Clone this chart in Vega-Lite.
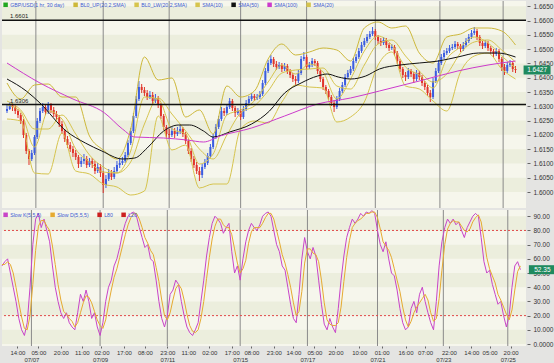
{
"$schema":"https://vega.github.io/schema/vega-lite/v6.json",
"padding":0,
"spacing":2,
"bounds":"flush",
"background":"#e4e4e2",
"config":{"view":{"stroke":null,"fill":"#f6f6ec"},"font":"Liberation Sans",
 "axis":{"grid":false,"domain":false,"tickColor":"#666666","labelColor":"#333333","labelFont":"Liberation Sans","labelFontSize":6.5}},
"resolve":{"scale":{"color":"independent"},"legend":{"color":"independent"}},
"datasets":{
"days":[{"t":21},{"t":70},{"t":118},{"t":170},{"t":218},{"t":268},{"t":315},{"t":361}],
"pbands":[{"lo":1.6,"hi":1.605},{"lo":1.61,"hi":1.615},{"lo":1.62,"hi":1.625},{"lo":1.63,"hi":1.635},{"lo":1.64,"hi":1.645},{"lo":1.65,"hi":1.655},{"lo":1.66,"hi":1.665}],
"sbands":[{"lo":0,"hi":10},{"lo":20,"hi":30},{"lo":40,"hi":50},{"lo":60,"hi":70},{"lo":80,"hi":90}],
"hl":[{"v":1.6601,"label":"1.6601"},{"v":1.6306,"label":"1.6306"}],
"pbox":[{"t":385.7,"v":1.6427,"label":"1.6427"}],
"sbox":[{"t":385.7,"v":52.35,"label":"52.35"}],
"slev":[{"v":80},{"v":20}],
"bars":[
{"t":0,"o":1.62835,"hi":1.63045,"lo":1.62765,"c":1.62905},
{"t":2,"o":1.62905,"hi":1.6315,"lo":1.6287,"c":1.63045},
{"t":4,"o":1.63045,"hi":1.63115,"lo":1.62835,"c":1.62975},
{"t":6,"o":1.62975,"hi":1.63045,"lo":1.6273,"c":1.62835},
{"t":8,"o":1.62835,"hi":1.62905,"lo":1.6259,"c":1.62695},
{"t":10,"o":1.62695,"hi":1.62765,"lo":1.6238,"c":1.62485},
{"t":12,"o":1.62485,"hi":1.62555,"lo":1.6189,"c":1.61995},
{"t":14,"o":1.61995,"hi":1.62065,"lo":1.6133,"c":1.61435},
{"t":16,"o":1.61435,"hi":1.61505,"lo":1.60945,"c":1.61155},
{"t":18,"o":1.61155,"hi":1.6147,"lo":1.61085,"c":1.61365},
{"t":20,"o":1.61365,"hi":1.61995,"lo":1.61295,"c":1.61925},
{"t":22,"o":1.61925,"hi":1.6259,"lo":1.61855,"c":1.62485},
{"t":24,"o":1.62485,"hi":1.6294,"lo":1.62415,"c":1.62835},
{"t":26,"o":1.62835,"hi":1.63115,"lo":1.62765,"c":1.62975},
{"t":28,"o":1.62975,"hi":1.63045,"lo":1.62695,"c":1.628},
{"t":30,"o":1.628,"hi":1.6315,"lo":1.6273,"c":1.63045},
{"t":32,"o":1.63045,"hi":1.63115,"lo":1.62765,"c":1.6287},
{"t":34,"o":1.6287,"hi":1.62975,"lo":1.62625,"c":1.6273},
{"t":36,"o":1.6273,"hi":1.62835,"lo":1.6252,"c":1.62625},
{"t":38,"o":1.62625,"hi":1.62695,"lo":1.62275,"c":1.6238},
{"t":40,"o":1.6238,"hi":1.62485,"lo":1.6203,"c":1.62135},
{"t":42,"o":1.62135,"hi":1.62205,"lo":1.6175,"c":1.61855},
{"t":44,"o":1.61855,"hi":1.6196,"lo":1.6154,"c":1.61645},
{"t":46,"o":1.61645,"hi":1.6175,"lo":1.614,"c":1.61505},
{"t":48,"o":1.61505,"hi":1.6161,"lo":1.61225,"c":1.61365},
{"t":50,"o":1.61365,"hi":1.6147,"lo":1.6112,"c":1.61225},
{"t":52,"o":1.61225,"hi":1.61295,"lo":1.6084,"c":1.6098},
{"t":54,"o":1.6098,"hi":1.61225,"lo":1.60875,"c":1.61085},
{"t":56,"o":1.61085,"hi":1.6133,"lo":1.6098,"c":1.61155},
{"t":58,"o":1.61155,"hi":1.6126,"lo":1.6084,"c":1.60945},
{"t":60,"o":1.60945,"hi":1.6119,"lo":1.60875,"c":1.61085},
{"t":62,"o":1.61085,"hi":1.6119,"lo":1.6084,"c":1.6098},
{"t":64,"o":1.6098,"hi":1.61085,"lo":1.6063,"c":1.60735},
{"t":66,"o":1.60735,"hi":1.61015,"lo":1.60665,"c":1.60875},
{"t":68,"o":1.60875,"hi":1.6098,"lo":1.60525,"c":1.60665},
{"t":70,"o":1.60665,"hi":1.60735,"lo":1.59965,"c":1.60245},
{"t":72,"o":1.60245,"hi":1.60595,"lo":1.6014,"c":1.60455},
{"t":74,"o":1.60455,"hi":1.60805,"lo":1.60385,"c":1.60665},
{"t":76,"o":1.60665,"hi":1.6077,"lo":1.6042,"c":1.60525},
{"t":78,"o":1.60525,"hi":1.60875,"lo":1.60455,"c":1.60735},
{"t":80,"o":1.60735,"hi":1.61085,"lo":1.60665,"c":1.60945},
{"t":82,"o":1.60945,"hi":1.6119,"lo":1.6084,"c":1.61015},
{"t":84,"o":1.61015,"hi":1.61225,"lo":1.60945,"c":1.61085},
{"t":86,"o":1.61085,"hi":1.614,"lo":1.61015,"c":1.61295},
{"t":88,"o":1.61295,"hi":1.6182,"lo":1.61225,"c":1.61715},
{"t":90,"o":1.61715,"hi":1.6224,"lo":1.61645,"c":1.62135},
{"t":92,"o":1.62135,"hi":1.62765,"lo":1.62065,"c":1.6266},
{"t":94,"o":1.6266,"hi":1.6336,"lo":1.6259,"c":1.63255},
{"t":96,"o":1.63255,"hi":1.63885,"lo":1.63185,"c":1.63675},
{"t":98,"o":1.63675,"hi":1.6378,"lo":1.63465,"c":1.6357},
{"t":100,"o":1.6357,"hi":1.63675,"lo":1.6336,"c":1.63465},
{"t":102,"o":1.63465,"hi":1.6357,"lo":1.6322,"c":1.63325},
{"t":104,"o":1.63325,"hi":1.63535,"lo":1.63255,"c":1.63395},
{"t":106,"o":1.63395,"hi":1.635,"lo":1.6308,"c":1.63185},
{"t":108,"o":1.63185,"hi":1.6343,"lo":1.63115,"c":1.6329},
{"t":110,"o":1.6329,"hi":1.6336,"lo":1.6294,"c":1.63045},
{"t":112,"o":1.63045,"hi":1.63115,"lo":1.62555,"c":1.6266},
{"t":114,"o":1.6266,"hi":1.6273,"lo":1.6217,"c":1.62275},
{"t":116,"o":1.62275,"hi":1.62345,"lo":1.6189,"c":1.6203},
{"t":118,"o":1.6203,"hi":1.62205,"lo":1.61855,"c":1.61995},
{"t":120,"o":1.61995,"hi":1.62275,"lo":1.61925,"c":1.62135},
{"t":122,"o":1.62135,"hi":1.6224,"lo":1.6189,"c":1.6203},
{"t":124,"o":1.6203,"hi":1.62275,"lo":1.6196,"c":1.621},
{"t":126,"o":1.621,"hi":1.62345,"lo":1.6203,"c":1.62205},
{"t":128,"o":1.62205,"hi":1.62275,"lo":1.61925,"c":1.6203},
{"t":130,"o":1.6203,"hi":1.621,"lo":1.6168,"c":1.61785},
{"t":132,"o":1.61785,"hi":1.61855,"lo":1.6133,"c":1.61435},
{"t":134,"o":1.61435,"hi":1.6154,"lo":1.6105,"c":1.61155},
{"t":136,"o":1.61155,"hi":1.6126,"lo":1.6084,"c":1.60945},
{"t":138,"o":1.60945,"hi":1.6105,"lo":1.6063,"c":1.60735},
{"t":140,"o":1.60735,"hi":1.60875,"lo":1.60385,"c":1.60595},
{"t":142,"o":1.60595,"hi":1.6098,"lo":1.6049,"c":1.60875},
{"t":144,"o":1.60875,"hi":1.61155,"lo":1.60805,"c":1.61015},
{"t":146,"o":1.61015,"hi":1.61365,"lo":1.60945,"c":1.6126},
{"t":148,"o":1.6126,"hi":1.6168,"lo":1.6119,"c":1.61575},
{"t":150,"o":1.61575,"hi":1.6203,"lo":1.61505,"c":1.61925},
{"t":152,"o":1.61925,"hi":1.6238,"lo":1.61855,"c":1.62275},
{"t":154,"o":1.62275,"hi":1.6266,"lo":1.62205,"c":1.62555},
{"t":156,"o":1.62555,"hi":1.62975,"lo":1.62485,"c":1.62835},
{"t":158,"o":1.62835,"hi":1.6294,"lo":1.6266,"c":1.62765},
{"t":160,"o":1.62765,"hi":1.6308,"lo":1.62695,"c":1.62975},
{"t":162,"o":1.62975,"hi":1.6329,"lo":1.62905,"c":1.63185},
{"t":164,"o":1.63185,"hi":1.63255,"lo":1.62835,"c":1.6294},
{"t":166,"o":1.6294,"hi":1.6301,"lo":1.62625,"c":1.62765},
{"t":168,"o":1.62765,"hi":1.6294,"lo":1.62695,"c":1.62835},
{"t":170,"o":1.62835,"hi":1.62905,"lo":1.6252,"c":1.62625},
{"t":172,"o":1.62625,"hi":1.6301,"lo":1.62555,"c":1.62905},
{"t":174,"o":1.62905,"hi":1.6322,"lo":1.62835,"c":1.63115},
{"t":176,"o":1.63115,"hi":1.6336,"lo":1.63045,"c":1.63255},
{"t":178,"o":1.63255,"hi":1.63465,"lo":1.63185,"c":1.6336},
{"t":180,"o":1.6336,"hi":1.6343,"lo":1.63185,"c":1.6329},
{"t":182,"o":1.6329,"hi":1.6343,"lo":1.6322,"c":1.63325},
{"t":184,"o":1.63325,"hi":1.63535,"lo":1.63255,"c":1.6343},
{"t":186,"o":1.6343,"hi":1.6392,"lo":1.6336,"c":1.63815},
{"t":188,"o":1.63815,"hi":1.6434,"lo":1.63745,"c":1.64235},
{"t":190,"o":1.64235,"hi":1.6462,"lo":1.64165,"c":1.64515},
{"t":192,"o":1.64515,"hi":1.64795,"lo":1.64445,"c":1.64655},
{"t":194,"o":1.64655,"hi":1.64725,"lo":1.64375,"c":1.6448},
{"t":196,"o":1.6448,"hi":1.64585,"lo":1.6427,"c":1.64375},
{"t":198,"o":1.64375,"hi":1.6455,"lo":1.64305,"c":1.64445},
{"t":200,"o":1.64445,"hi":1.64515,"lo":1.642,"c":1.64305},
{"t":202,"o":1.64305,"hi":1.64515,"lo":1.64235,"c":1.6441},
{"t":204,"o":1.6441,"hi":1.6448,"lo":1.6413,"c":1.64235},
{"t":206,"o":1.64235,"hi":1.64305,"lo":1.6399,"c":1.64095},
{"t":208,"o":1.64095,"hi":1.64165,"lo":1.6385,"c":1.63955},
{"t":210,"o":1.63955,"hi":1.6406,"lo":1.63745,"c":1.63885},
{"t":212,"o":1.63885,"hi":1.6427,"lo":1.63815,"c":1.64165},
{"t":214,"o":1.64165,"hi":1.6476,"lo":1.64095,"c":1.64655},
{"t":216,"o":1.64655,"hi":1.649,"lo":1.64585,"c":1.64725},
{"t":218,"o":1.64725,"hi":1.64795,"lo":1.6427,"c":1.64375},
{"t":220,"o":1.64375,"hi":1.6455,"lo":1.64305,"c":1.64445},
{"t":222,"o":1.64445,"hi":1.6469,"lo":1.64375,"c":1.64585},
{"t":224,"o":1.64585,"hi":1.64655,"lo":1.6441,"c":1.64515},
{"t":226,"o":1.64515,"hi":1.64585,"lo":1.6413,"c":1.64235},
{"t":228,"o":1.64235,"hi":1.64305,"lo":1.6385,"c":1.63955},
{"t":230,"o":1.63955,"hi":1.64025,"lo":1.6357,"c":1.63675},
{"t":232,"o":1.63675,"hi":1.63745,"lo":1.6343,"c":1.63535},
{"t":234,"o":1.63535,"hi":1.63605,"lo":1.6322,"c":1.63325},
{"t":236,"o":1.63325,"hi":1.63395,"lo":1.6301,"c":1.63115},
{"t":238,"o":1.63115,"hi":1.6322,"lo":1.628,"c":1.62975},
{"t":240,"o":1.62975,"hi":1.6336,"lo":1.62905,"c":1.63255},
{"t":242,"o":1.63255,"hi":1.6364,"lo":1.63185,"c":1.63535},
{"t":244,"o":1.63535,"hi":1.6385,"lo":1.63465,"c":1.63745},
{"t":246,"o":1.63745,"hi":1.6413,"lo":1.63675,"c":1.64025},
{"t":248,"o":1.64025,"hi":1.6427,"lo":1.63955,"c":1.64165},
{"t":250,"o":1.64165,"hi":1.6441,"lo":1.64095,"c":1.64305},
{"t":252,"o":1.64305,"hi":1.6469,"lo":1.64235,"c":1.64585},
{"t":254,"o":1.64585,"hi":1.6483,"lo":1.64515,"c":1.64725},
{"t":256,"o":1.64725,"hi":1.6504,"lo":1.64655,"c":1.64935},
{"t":258,"o":1.64935,"hi":1.6525,"lo":1.64865,"c":1.65145},
{"t":260,"o":1.65145,"hi":1.6539,"lo":1.65075,"c":1.65285},
{"t":262,"o":1.65285,"hi":1.6553,"lo":1.65215,"c":1.65425},
{"t":264,"o":1.65425,"hi":1.65635,"lo":1.65355,"c":1.6553},
{"t":266,"o":1.6553,"hi":1.65775,"lo":1.6546,"c":1.65635},
{"t":268,"o":1.65635,"hi":1.65705,"lo":1.6532,"c":1.65425},
{"t":270,"o":1.65425,"hi":1.65495,"lo":1.6518,"c":1.65285},
{"t":272,"o":1.65285,"hi":1.6539,"lo":1.6511,"c":1.65215},
{"t":274,"o":1.65215,"hi":1.65425,"lo":1.65145,"c":1.6532},
{"t":276,"o":1.6532,"hi":1.6539,"lo":1.6504,"c":1.65145},
{"t":278,"o":1.65145,"hi":1.65215,"lo":1.64935,"c":1.6504},
{"t":280,"o":1.6504,"hi":1.6518,"lo":1.6497,"c":1.65075},
{"t":282,"o":1.65075,"hi":1.65145,"lo":1.6476,"c":1.64865},
{"t":284,"o":1.64865,"hi":1.64935,"lo":1.6448,"c":1.64585},
{"t":286,"o":1.64585,"hi":1.64655,"lo":1.642,"c":1.64305},
{"t":288,"o":1.64305,"hi":1.64375,"lo":1.6399,"c":1.64095},
{"t":290,"o":1.64095,"hi":1.642,"lo":1.63885,"c":1.64025},
{"t":292,"o":1.64025,"hi":1.6434,"lo":1.63955,"c":1.64235},
{"t":294,"o":1.64235,"hi":1.64305,"lo":1.64025,"c":1.6413},
{"t":296,"o":1.6413,"hi":1.642,"lo":1.63815,"c":1.63955},
{"t":298,"o":1.63955,"hi":1.6427,"lo":1.63885,"c":1.64165},
{"t":300,"o":1.64165,"hi":1.64235,"lo":1.6392,"c":1.64025},
{"t":302,"o":1.64025,"hi":1.64095,"lo":1.6371,"c":1.63815},
{"t":304,"o":1.63815,"hi":1.63885,"lo":1.6357,"c":1.63675},
{"t":306,"o":1.63675,"hi":1.63745,"lo":1.6336,"c":1.63465},
{"t":308,"o":1.63465,"hi":1.6357,"lo":1.6315,"c":1.63325},
{"t":310,"o":1.63325,"hi":1.6399,"lo":1.63255,"c":1.63885},
{"t":312,"o":1.63885,"hi":1.6434,"lo":1.63815,"c":1.64235},
{"t":314,"o":1.64235,"hi":1.6462,"lo":1.64165,"c":1.64515},
{"t":316,"o":1.64515,"hi":1.6483,"lo":1.64445,"c":1.64725},
{"t":318,"o":1.64725,"hi":1.6497,"lo":1.64655,"c":1.64865},
{"t":320,"o":1.64865,"hi":1.6504,"lo":1.64795,"c":1.64935},
{"t":322,"o":1.64935,"hi":1.65145,"lo":1.64865,"c":1.6504},
{"t":324,"o":1.6504,"hi":1.6518,"lo":1.6497,"c":1.65075},
{"t":326,"o":1.65075,"hi":1.65285,"lo":1.65005,"c":1.6518},
{"t":328,"o":1.6518,"hi":1.6525,"lo":1.65005,"c":1.6511},
{"t":330,"o":1.6511,"hi":1.6518,"lo":1.649,"c":1.65005},
{"t":332,"o":1.65005,"hi":1.6525,"lo":1.64935,"c":1.65145},
{"t":334,"o":1.65145,"hi":1.6539,"lo":1.65075,"c":1.65285},
{"t":336,"o":1.65285,"hi":1.6553,"lo":1.65215,"c":1.65425},
{"t":338,"o":1.65425,"hi":1.6567,"lo":1.65355,"c":1.65565},
{"t":340,"o":1.65565,"hi":1.65775,"lo":1.65495,"c":1.65635},
{"t":342,"o":1.65635,"hi":1.65705,"lo":1.6532,"c":1.65425},
{"t":344,"o":1.65425,"hi":1.65495,"lo":1.6511,"c":1.65215},
{"t":346,"o":1.65215,"hi":1.65285,"lo":1.65005,"c":1.6511},
{"t":348,"o":1.6511,"hi":1.6532,"lo":1.6504,"c":1.65215},
{"t":350,"o":1.65215,"hi":1.65285,"lo":1.64935,"c":1.6504},
{"t":352,"o":1.6504,"hi":1.6511,"lo":1.6483,"c":1.64935},
{"t":354,"o":1.64935,"hi":1.65005,"lo":1.64725,"c":1.6483},
{"t":356,"o":1.6483,"hi":1.6504,"lo":1.6476,"c":1.64935},
{"t":358,"o":1.64935,"hi":1.65005,"lo":1.6455,"c":1.64655},
{"t":360,"o":1.64655,"hi":1.64725,"lo":1.64235,"c":1.64375},
{"t":362,"o":1.64375,"hi":1.6448,"lo":1.64095,"c":1.64235},
{"t":364,"o":1.64235,"hi":1.6455,"lo":1.64165,"c":1.64445},
{"t":366,"o":1.64445,"hi":1.6462,"lo":1.64375,"c":1.64515},
{"t":368,"o":1.64515,"hi":1.64585,"lo":1.642,"c":1.64305},
{"t":370,"o":1.64305,"hi":1.6441,"lo":1.64165,"c":1.6427}
],
"bb":[
{"t":0,"up":1.63815,"lw":1.62555,"s10":1.63045,"s20":1.63185},
{"t":10,"up":1.63255,"lw":1.62485,"s10":1.628,"s20":1.6287},
{"t":20,"up":1.63745,"lw":1.60665,"s10":1.61575,"s20":1.62205},
{"t":30,"up":1.6378,"lw":1.6063,"s10":1.62835,"s20":1.62205},
{"t":40,"up":1.63325,"lw":1.62065,"s10":1.62555,"s20":1.62695},
{"t":50,"up":1.63325,"lw":1.60735,"s10":1.61505,"s20":1.6203},
{"t":60,"up":1.6196,"lw":1.6063,"s10":1.6105,"s20":1.61295},
{"t":70,"up":1.6147,"lw":1.6028,"s10":1.607,"s20":1.60875},
{"t":80,"up":1.61155,"lw":1.60175,"s10":1.60665,"s20":1.60665},
{"t":90,"up":1.62205,"lw":1.59895,"s10":1.61435,"s20":1.6105},
{"t":100,"up":1.64725,"lw":1.60035,"s10":1.63325,"s20":1.6238},
{"t":110,"up":1.6392,"lw":1.6266,"s10":1.63255,"s20":1.6329},
{"t":120,"up":1.6399,"lw":1.6147,"s10":1.62205,"s20":1.6273},
{"t":130,"up":1.62625,"lw":1.61645,"s10":1.6203,"s20":1.62135},
{"t":140,"up":1.6287,"lw":1.6014,"s10":1.6098,"s20":1.61505},
{"t":150,"up":1.6203,"lw":1.6028,"s10":1.6133,"s20":1.61155},
{"t":160,"up":1.6371,"lw":1.6028,"s10":1.62695,"s20":1.61995},
{"t":170,"up":1.63325,"lw":1.62205,"s10":1.6287,"s20":1.62765},
{"t":180,"up":1.63535,"lw":1.62485,"s10":1.63185,"s20":1.6301},
{"t":190,"up":1.64655,"lw":1.62415,"s10":1.6385,"s20":1.63535},
{"t":200,"up":1.6518,"lw":1.6315,"s10":1.64445,"s20":1.64165},
{"t":210,"up":1.64795,"lw":1.63745,"s10":1.6413,"s20":1.6427},
{"t":220,"up":1.649,"lw":1.63675,"s10":1.6448,"s20":1.64305},
{"t":230,"up":1.6504,"lw":1.6364,"s10":1.642,"s20":1.6434},
{"t":240,"up":1.6497,"lw":1.6245,"s10":1.63255,"s20":1.6371},
{"t":250,"up":1.64585,"lw":1.62625,"s10":1.63955,"s20":1.63605},
{"t":260,"up":1.6574,"lw":1.6315,"s10":1.64935,"s20":1.64445},
{"t":270,"up":1.6595,"lw":1.64445,"s10":1.6546,"s20":1.6518},
{"t":280,"up":1.6574,"lw":1.649,"s10":1.65145,"s20":1.6532},
{"t":290,"up":1.6581,"lw":1.6371,"s10":1.64375,"s20":1.6476},
{"t":300,"up":1.64865,"lw":1.63605,"s10":1.64095,"s20":1.64235},
{"t":310,"up":1.64515,"lw":1.63185,"s10":1.6364,"s20":1.6385},
{"t":320,"up":1.65425,"lw":1.62835,"s10":1.64655,"s20":1.6413},
{"t":330,"up":1.6553,"lw":1.642,"s10":1.65075,"s20":1.64865},
{"t":340,"up":1.6574,"lw":1.6476,"s10":1.65425,"s20":1.6525},
{"t":350,"up":1.6574,"lw":1.64865,"s10":1.65215,"s20":1.6532},
{"t":360,"up":1.65635,"lw":1.64305,"s10":1.6476,"s20":1.6497},
{"t":370,"up":1.65145,"lw":1.63955,"s10":1.6434,"s20":1.6455}
],
"ma":[
{"t":0,"s":"s50","v":1.63955},{"t":14,"s":"s50","v":1.63535},{"t":24,"s":"s50","v":1.63115},{"t":43,"s":"s50","v":1.62135},{"t":57,"s":"s50","v":1.61715},{"t":69,"s":"s50","v":1.61435},{"t":84,"s":"s50","v":1.61155},{"t":93,"s":"s50","v":1.6119},{"t":102,"s":"s50","v":1.6154},{"t":114,"s":"s50","v":1.62135},{"t":125,"s":"s50","v":1.62345},{"t":133,"s":"s50","v":1.62345},{"t":143,"s":"s50","v":1.62135},{"t":150,"s":"s50","v":1.61925},{"t":162,"s":"s50","v":1.621},{"t":178,"s":"s50","v":1.6238},{"t":191,"s":"s50","v":1.62835},{"t":202,"s":"s50","v":1.63465},{"t":214,"s":"s50","v":1.63815},{"t":226,"s":"s50","v":1.6406},{"t":233,"s":"s50","v":1.6413},{"t":241,"s":"s50","v":1.64025},{"t":250,"s":"s50","v":1.63955},{"t":261,"s":"s50","v":1.6406},{"t":271,"s":"s50","v":1.64305},{"t":286,"s":"s50","v":1.64445},{"t":300,"s":"s50","v":1.64515},{"t":314,"s":"s50","v":1.64585},{"t":328,"s":"s50","v":1.64725},{"t":343,"s":"s50","v":1.64865},{"t":357,"s":"s50","v":1.64865},{"t":370,"s":"s50","v":1.64725},
{"t":0,"s":"s100","v":1.64515},{"t":24,"s":"s100","v":1.63815},{"t":48,"s":"s100","v":1.63255},{"t":71,"s":"s100","v":1.62765},{"t":84,"s":"s100","v":1.62205},{"t":93,"s":"s100","v":1.61925},{"t":114,"s":"s100","v":1.6189},{"t":131,"s":"s100","v":1.6182},{"t":143,"s":"s100","v":1.6175},{"t":155,"s":"s100","v":1.6196},{"t":178,"s":"s100","v":1.6224},{"t":202,"s":"s100","v":1.6266},{"t":226,"s":"s100","v":1.6308},{"t":250,"s":"s100","v":1.6329},{"t":271,"s":"s100","v":1.63535},{"t":300,"s":"s100","v":1.63885},{"t":328,"s":"s100","v":1.64235},{"t":350,"s":"s100","v":1.64445},{"t":370,"s":"s100","v":1.64585}
],
"stoch":[
{"t":0,"K":55,"D":56},{"t":2,"K":58,"D":56},{"t":4,"K":60,"D":58},{"t":6,"K":50,"D":56},{"t":8,"K":40,"D":50},{"t":10,"K":30,"D":40},{"t":12,"K":18,"D":29},{"t":14,"K":10,"D":19},{"t":16,"K":6,"D":11},{"t":18,"K":15,"D":10},
{"t":20,"K":40,"D":20},{"t":22,"K":70,"D":42},{"t":24,"K":88,"D":66},{"t":26,"K":92,"D":83},{"t":28,"K":82,"D":87},{"t":30,"K":88,"D":87},{"t":32,"K":80,"D":83},{"t":34,"K":72,"D":80},{"t":36,"K":55,"D":69},{"t":38,"K":40,"D":56},
{"t":40,"K":30,"D":42},{"t":42,"K":22,"D":31},{"t":44,"K":18,"D":23},{"t":46,"K":22,"D":21},{"t":48,"K":15,"D":18},{"t":50,"K":12,"D":16},{"t":52,"K":10,"D":12},{"t":54,"K":22,"D":15},{"t":56,"K":35,"D":22},{"t":58,"K":30,"D":29},
{"t":60,"K":38,"D":34},{"t":62,"K":30,"D":33},{"t":64,"K":18,"D":29},{"t":66,"K":22,"D":23},{"t":68,"K":12,"D":17},{"t":70,"K":6,"D":13},{"t":72,"K":15,"D":11},{"t":74,"K":30,"D":17},{"t":76,"K":40,"D":28},{"t":78,"K":45,"D":38},
{"t":80,"K":55,"D":47},{"t":82,"K":60,"D":53},{"t":84,"K":68,"D":61},{"t":86,"K":78,"D":69},{"t":88,"K":85,"D":77},{"t":90,"K":90,"D":84},{"t":92,"K":92,"D":89},{"t":94,"K":93,"D":92},{"t":96,"K":90,"D":92},{"t":98,"K":82,"D":88},
{"t":100,"K":75,"D":82},{"t":102,"K":68,"D":75},{"t":104,"K":70,"D":71},{"t":106,"K":60,"D":66},{"t":108,"K":58,"D":63},{"t":110,"K":45,"D":54},{"t":112,"K":30,"D":44},{"t":114,"K":18,"D":31},{"t":116,"K":12,"D":20},{"t":118,"K":20,"D":17},
{"t":120,"K":35,"D":22},{"t":122,"K":38,"D":31},{"t":124,"K":45,"D":39},{"t":126,"K":42,"D":42},{"t":128,"K":30,"D":39},{"t":130,"K":20,"D":31},{"t":132,"K":12,"D":21},{"t":134,"K":8,"D":13},{"t":136,"K":6,"D":9},{"t":138,"K":10,"D":8},
{"t":140,"K":15,"D":10},{"t":142,"K":30,"D":18},{"t":144,"K":45,"D":30},{"t":146,"K":62,"D":46},{"t":148,"K":75,"D":61},{"t":150,"K":85,"D":74},{"t":152,"K":90,"D":83},{"t":154,"K":88,"D":88},{"t":156,"K":85,"D":88},{"t":158,"K":78,"D":84},
{"t":160,"K":82,"D":82},{"t":162,"K":85,"D":82},{"t":164,"K":65,"D":77},{"t":166,"K":50,"D":67},{"t":168,"K":55,"D":57},{"t":170,"K":45,"D":50},{"t":172,"K":60,"D":53},{"t":174,"K":72,"D":59},{"t":176,"K":80,"D":71},{"t":178,"K":85,"D":79},
{"t":180,"K":82,"D":82},{"t":182,"K":80,"D":82},{"t":184,"K":84,"D":82},{"t":186,"K":90,"D":85},{"t":188,"K":92,"D":89},{"t":190,"K":93,"D":92},{"t":192,"K":90,"D":92},{"t":194,"K":80,"D":88},{"t":196,"K":70,"D":80},{"t":198,"K":65,"D":72},
{"t":200,"K":55,"D":63},{"t":202,"K":52,"D":57},{"t":204,"K":40,"D":49},{"t":206,"K":28,"D":40},{"t":208,"K":18,"D":29},{"t":210,"K":15,"D":20},{"t":212,"K":35,"D":23},{"t":214,"K":60,"D":37},{"t":216,"K":75,"D":57},{"t":218,"K":65,"D":67},
{"t":220,"K":60,"D":67},{"t":222,"K":68,"D":64},{"t":224,"K":62,"D":63},{"t":226,"K":45,"D":58},{"t":228,"K":28,"D":45},{"t":230,"K":14,"D":29},{"t":232,"K":10,"D":17},{"t":234,"K":18,"D":14},{"t":236,"K":12,"D":13},{"t":238,"K":8,"D":13},
{"t":240,"K":25,"D":15},{"t":242,"K":45,"D":26},{"t":244,"K":62,"D":44},{"t":246,"K":75,"D":61},{"t":248,"K":82,"D":73},{"t":250,"K":88,"D":82},{"t":252,"K":85,"D":85},{"t":254,"K":88,"D":87},{"t":256,"K":92,"D":88},{"t":258,"K":90,"D":90},
{"t":260,"K":93,"D":92},{"t":262,"K":92,"D":92},{"t":264,"K":94,"D":93},{"t":266,"K":92,"D":93},{"t":268,"K":80,"D":89},{"t":270,"K":70,"D":81},{"t":272,"K":65,"D":72},{"t":274,"K":72,"D":69},{"t":276,"K":60,"D":66},{"t":278,"K":50,"D":61},
{"t":280,"K":48,"D":53},{"t":282,"K":38,"D":45},{"t":284,"K":25,"D":37},{"t":286,"K":15,"D":26},{"t":288,"K":10,"D":17},{"t":290,"K":12,"D":12},{"t":292,"K":25,"D":16},{"t":294,"K":30,"D":22},{"t":296,"K":22,"D":26},{"t":298,"K":35,"D":29},
{"t":300,"K":40,"D":32},{"t":302,"K":30,"D":35},{"t":304,"K":22,"D":31},{"t":306,"K":15,"D":22},{"t":308,"K":10,"D":16},{"t":310,"K":30,"D":18},{"t":312,"K":55,"D":32},{"t":314,"K":72,"D":52},{"t":316,"K":82,"D":70},{"t":318,"K":88,"D":81},
{"t":320,"K":85,"D":85},{"t":322,"K":88,"D":87},{"t":324,"K":84,"D":86},{"t":326,"K":86,"D":86},{"t":328,"K":80,"D":83},{"t":330,"K":75,"D":80},{"t":332,"K":82,"D":79},{"t":334,"K":86,"D":81},{"t":336,"K":90,"D":86},{"t":338,"K":92,"D":89},
{"t":340,"K":90,"D":91},{"t":342,"K":75,"D":86},{"t":344,"K":58,"D":74},{"t":346,"K":50,"D":61},{"t":348,"K":52,"D":53},{"t":350,"K":42,"D":48},{"t":352,"K":35,"D":43},{"t":354,"K":28,"D":35},{"t":356,"K":30,"D":31},{"t":358,"K":20,"D":26},
{"t":360,"K":12,"D":21},{"t":362,"K":20,"D":17},{"t":364,"K":40,"D":24},{"t":366,"K":55,"D":38},{"t":368,"K":58,"D":51},{"t":370,"K":52.35,"D":55}
]
},
"vconcat":[
{
"width":524,"height":207,
"layer":[
{"data":{"name":"pbands"},"mark":{"type":"rect","color":"#eceedd"},
 "encoding":{"y":{"field":"lo","type":"quantitative","scale":{"domain":[1.5944,1.66685],"nice":false,"zero":false},
  "axis":{"orient":"right","values":[1.6,1.605,1.61,1.615,1.62,1.625,1.63,1.635,1.64,1.645,1.65,1.655,1.66,1.665],"format":".4f","title":null,"tickSize":3,"labelPadding":3,"offset":1,"minExtent":30,"maxExtent":30}},
  "y2":{"field":"hi"}}},
{"data":{"name":"days"},"mark":{"type":"rule","color":"#8a8a8a","strokeWidth":1},
 "encoding":{"x":{"field":"t","type":"quantitative","scale":{"domain":[0,374],"nice":false,"zero":false},"axis":null}}},
{"data":{"name":"bars"},"mark":{"type":"rule","strokeWidth":1},
 "encoding":{"x":{"field":"t","type":"quantitative","axis":null},
  "y":{"field":"lo","type":"quantitative","axis":{"orient":"right","values":[1.6,1.605,1.61,1.615,1.62,1.625,1.63,1.635,1.64,1.645,1.65,1.655,1.66,1.665],"format":".4f","title":null,"tickSize":3,"labelPadding":3,"offset":1,"minExtent":30,"maxExtent":30}},"y2":{"field":"hi"},
  "color":{"condition":{"test":"datum.c >= datum.o","value":"#3b5ce0"},"value":"#e0342a"}}},
{"data":{"name":"bars"},"mark":{"type":"bar","size":2},
 "encoding":{"x":{"field":"t","type":"quantitative","axis":null},
  "y":{"field":"o","type":"quantitative","axis":{"orient":"right","values":[1.6,1.605,1.61,1.615,1.62,1.625,1.63,1.635,1.64,1.645,1.65,1.655,1.66,1.665],"format":".4f","title":null,"tickSize":3,"labelPadding":3,"offset":1,"minExtent":30,"maxExtent":30}},"y2":{"field":"c"},
  "color":{"condition":{"test":"datum.c >= datum.o","value":"#3b5ce0"},"value":"#e0342a"}}},
{"data":{"name":"bb"},"transform":[{"fold":["up","lw","s10","s20"],"as":["s","v"]}],
 "mark":{"type":"line","strokeWidth":1,"interpolate":"monotone"},
 "encoding":{"x":{"field":"t","type":"quantitative","axis":null},
  "y":{"field":"v","type":"quantitative","axis":{"orient":"right","values":[1.6,1.605,1.61,1.615,1.62,1.625,1.63,1.635,1.64,1.645,1.65,1.655,1.66,1.665],"format":".4f","title":null,"tickSize":3,"labelPadding":3,"offset":1,"minExtent":30,"maxExtent":30}},
  "color":{"field":"s","type":"nominal","scale":{"domain":["px","up","lw","s10","s50","s100","s20"],"range":["#22a822","#cdb83a","#d6c44e","#d6c44e","#111111","#cc3acc","#d6c44e"]},
   "legend":{"orient":"none","legendX":1,"legendY":1,"direction":"horizontal","title":null,"symbolType":"square","symbolSize":4,"symbolStrokeWidth":2.5,"labelFontSize":5.2,"labelColor":"#3c5ad2","columnPadding":4,"labelOffset":2,"padding":0,
    "labelExpr":"datum.label == 'px' ? 'GBP/USD(1 hr, 30 day)' : datum.label == 'up' ? 'BL0_UP(20,2,SMA)' : datum.label == 'lw' ? 'BL0_LW(20,2,SMA)' : datum.label == 's10' ? 'SMA(10)' : datum.label == 's50' ? 'SMA(50)' : datum.label == 's100' ? 'SMA(100)' : 'SMA(20)'"}}}},
{"data":{"name":"ma"},"mark":{"type":"line","strokeWidth":1,"interpolate":"monotone"},
 "encoding":{"x":{"field":"t","type":"quantitative","axis":null},
  "y":{"field":"v","type":"quantitative","axis":{"orient":"right","values":[1.6,1.605,1.61,1.615,1.62,1.625,1.63,1.635,1.64,1.645,1.65,1.655,1.66,1.665],"format":".4f","title":null,"tickSize":3,"labelPadding":3,"offset":1,"minExtent":30,"maxExtent":30}},
  "color":{"field":"s","type":"nominal"}}},
{"data":{"name":"hl"},"mark":{"type":"rule","color":"#111111","strokeWidth":1.5},
 "encoding":{"y":{"field":"v","type":"quantitative","axis":{"orient":"right","values":[1.6,1.605,1.61,1.615,1.62,1.625,1.63,1.635,1.64,1.645,1.65,1.655,1.66,1.665],"format":".4f","title":null,"tickSize":3,"labelPadding":3,"offset":1,"minExtent":30,"maxExtent":30}}}},
{"data":{"name":"hl"},"mark":{"type":"text","align":"left","baseline":"bottom","dx":3,"dy":-1,"fontSize":6,"color":"#222222"},
 "encoding":{"x":{"datum":0,"type":"quantitative","axis":null},
  "y":{"field":"v","type":"quantitative","axis":{"orient":"right","values":[1.6,1.605,1.61,1.615,1.62,1.625,1.63,1.635,1.64,1.645,1.65,1.655,1.66,1.665],"format":".4f","title":null,"tickSize":3,"labelPadding":3,"offset":1,"minExtent":30,"maxExtent":30}},"text":{"field":"label"}}},
{"data":{"name":"pbox"},"mark":{"type":"tick","orient":"horizontal","size":27,"thickness":9,"color":"#1f8a5f","opacity":1},
 "encoding":{"x":{"field":"t","type":"quantitative","axis":null},
  "y":{"field":"v","type":"quantitative","axis":{"orient":"right","values":[1.6,1.605,1.61,1.615,1.62,1.625,1.63,1.635,1.64,1.645,1.65,1.655,1.66,1.665],"format":".4f","title":null,"tickSize":3,"labelPadding":3,"offset":1,"minExtent":30,"maxExtent":30}}}},
{"data":{"name":"pbox"},"mark":{"type":"text","color":"#ffffff","fontSize":6.5},
 "encoding":{"x":{"field":"t","type":"quantitative","axis":null},
  "y":{"field":"v","type":"quantitative","axis":{"orient":"right","values":[1.6,1.605,1.61,1.615,1.62,1.625,1.63,1.635,1.64,1.645,1.65,1.655,1.66,1.665],"format":".4f","title":null,"tickSize":3,"labelPadding":3,"offset":1,"minExtent":30,"maxExtent":30}},"text":{"field":"label"}}}
]
},
{
"width":524,"height":136,
"layer":[
{"data":{"name":"sbands"},"mark":{"type":"rect","color":"#eceedd"},
 "encoding":{"y":{"field":"lo","type":"quantitative","scale":{"domain":[-1.4,94.4],"nice":false,"zero":false},
  "axis":{"orient":"right","values":[0,10,20,30,40,50,60,70,80,90],"labelExpr":"datum.value == 10 ? '10.000' : datum.value == 0 ? '0.0000' : format(datum.value, '.2f')","title":null,"tickSize":3,"labelPadding":3,"offset":1,"minExtent":30,"maxExtent":30}},
  "y2":{"field":"hi"}}},
{"data":{"name":"days"},"mark":{"type":"rule","color":"#8a8a8a","strokeWidth":1},
 "encoding":{"x":{"field":"t","type":"quantitative","scale":{"domain":[0,374],"nice":false,"zero":false},
  "axis":{"values":[11,21,26,42,57,70,71,87,102,118,133,148,164,170,178,194,208,218,223,238,255,268,271,288,302,315,319,335,348,361,363],
   "labelExpr":"split(['14:00','|07/07','05:00','20:00','11:00','|07/09','02:00','17:00','08:00','23:00|07/11','11:00','02:00','17:00','|07/15','08:00','23:00','14:00','|07/17','05:00','20:00','10:00','|07/21','01:00','16:00','07:00','|07/23','22:00','14:00','05:00','|07/25','20:00'][indexof([11,21,26,42,57,70,71,87,102,118,133,148,164,170,178,194,208,218,223,238,255,268,271,288,302,315,319,335,348,361,363], datum.value)], '|')",
   "labelOverlap":false,"labelFlush":false,"labelBound":false,"tickSize":2,
   "tickOpacity":{"condition":{"test":"indexof([21,70,170,218,268,315,361], datum.value) >= 0","value":0},"value":1},
   "labelFontSize":6,"labelPadding":1,"labelLineHeight":7.5,"title":null,"minExtent":18,"maxExtent":18}}}},
{"data":{"name":"slev"},"mark":{"type":"rule","color":"#e04848","strokeDash":[2,2],"strokeWidth":1},
 "encoding":{"y":{"field":"v","type":"quantitative","axis":{"orient":"right","values":[0,10,20,30,40,50,60,70,80,90],"labelExpr":"datum.value == 10 ? '10.000' : datum.value == 0 ? '0.0000' : format(datum.value, '.2f')","title":null,"tickSize":3,"labelPadding":3,"offset":1,"minExtent":30,"maxExtent":30}}}},
{"data":{"name":"stoch"},"transform":[{"fold":["K","D"],"as":["s","v"]}],
 "mark":{"type":"line","strokeWidth":1},
 "encoding":{"x":{"field":"t","type":"quantitative",
  "axis":{"values":[11,21,26,42,57,70,71,87,102,118,133,148,164,170,178,194,208,218,223,238,255,268,271,288,302,315,319,335,348,361,363],
   "labelExpr":"split(['14:00','|07/07','05:00','20:00','11:00','|07/09','02:00','17:00','08:00','23:00|07/11','11:00','02:00','17:00','|07/15','08:00','23:00','14:00','|07/17','05:00','20:00','10:00','|07/21','01:00','16:00','07:00','|07/23','22:00','14:00','05:00','|07/25','20:00'][indexof([11,21,26,42,57,70,71,87,102,118,133,148,164,170,178,194,208,218,223,238,255,268,271,288,302,315,319,335,348,361,363], datum.value)], '|')",
   "labelOverlap":false,"labelFlush":false,"labelBound":false,"tickSize":2,
   "tickOpacity":{"condition":{"test":"indexof([21,70,170,218,268,315,361], datum.value) >= 0","value":0},"value":1},
   "labelFontSize":6,"labelPadding":1,"labelLineHeight":7.5,"title":null,"minExtent":18,"maxExtent":18}},
  "y":{"field":"v","type":"quantitative","axis":{"orient":"right","values":[0,10,20,30,40,50,60,70,80,90],"labelExpr":"datum.value == 10 ? '10.000' : datum.value == 0 ? '0.0000' : format(datum.value, '.2f')","title":null,"tickSize":3,"labelPadding":3,"offset":1,"minExtent":30,"maxExtent":30}},
  "color":{"field":"s","type":"nominal","scale":{"domain":["K","D","L80","L20"],"range":["#c844c8","#e6aa30","#cc1f1f","#cc1f1f"]},
   "legend":{"orient":"none","legendX":1,"legendY":2,"direction":"horizontal","title":null,"symbolType":"square","symbolSize":4,"symbolStrokeWidth":2.5,"labelFontSize":5.2,"labelColor":"#3c5ad2","columnPadding":4,"labelOffset":2,"padding":0,
    "labelExpr":"datum.label == 'K' ? 'Slow K(5,5,5)' : datum.label == 'D' ? 'Slow D(5,5,5)' : datum.label"}}}},
{"data":{"name":"sbox"},"mark":{"type":"tick","orient":"horizontal","size":27,"thickness":9,"color":"#1f8a5f","opacity":1},
 "encoding":{"x":{"field":"t","type":"quantitative",
  "axis":{"values":[11,21,26,42,57,70,71,87,102,118,133,148,164,170,178,194,208,218,223,238,255,268,271,288,302,315,319,335,348,361,363],
   "labelExpr":"split(['14:00','|07/07','05:00','20:00','11:00','|07/09','02:00','17:00','08:00','23:00|07/11','11:00','02:00','17:00','|07/15','08:00','23:00','14:00','|07/17','05:00','20:00','10:00','|07/21','01:00','16:00','07:00','|07/23','22:00','14:00','05:00','|07/25','20:00'][indexof([11,21,26,42,57,70,71,87,102,118,133,148,164,170,178,194,208,218,223,238,255,268,271,288,302,315,319,335,348,361,363], datum.value)], '|')",
   "labelOverlap":false,"labelFlush":false,"labelBound":false,"tickSize":2,
   "tickOpacity":{"condition":{"test":"indexof([21,70,170,218,268,315,361], datum.value) >= 0","value":0},"value":1},
   "labelFontSize":6,"labelPadding":1,"labelLineHeight":7.5,"title":null,"minExtent":18,"maxExtent":18}},
  "y":{"field":"v","type":"quantitative","axis":{"orient":"right","values":[0,10,20,30,40,50,60,70,80,90],"labelExpr":"datum.value == 10 ? '10.000' : datum.value == 0 ? '0.0000' : format(datum.value, '.2f')","title":null,"tickSize":3,"labelPadding":3,"offset":1,"minExtent":30,"maxExtent":30}}}},
{"data":{"name":"sbox"},"mark":{"type":"text","color":"#ffffff","fontSize":6.5},
 "encoding":{"x":{"field":"t","type":"quantitative",
  "axis":{"values":[11,21,26,42,57,70,71,87,102,118,133,148,164,170,178,194,208,218,223,238,255,268,271,288,302,315,319,335,348,361,363],
   "labelExpr":"split(['14:00','|07/07','05:00','20:00','11:00','|07/09','02:00','17:00','08:00','23:00|07/11','11:00','02:00','17:00','|07/15','08:00','23:00','14:00','|07/17','05:00','20:00','10:00','|07/21','01:00','16:00','07:00','|07/23','22:00','14:00','05:00','|07/25','20:00'][indexof([11,21,26,42,57,70,71,87,102,118,133,148,164,170,178,194,208,218,223,238,255,268,271,288,302,315,319,335,348,361,363], datum.value)], '|')",
   "labelOverlap":false,"labelFlush":false,"labelBound":false,"tickSize":2,
   "tickOpacity":{"condition":{"test":"indexof([21,70,170,218,268,315,361], datum.value) >= 0","value":0},"value":1},
   "labelFontSize":6,"labelPadding":1,"labelLineHeight":7.5,"title":null,"minExtent":18,"maxExtent":18}},
  "y":{"field":"v","type":"quantitative","axis":{"orient":"right","values":[0,10,20,30,40,50,60,70,80,90],"labelExpr":"datum.value == 10 ? '10.000' : datum.value == 0 ? '0.0000' : format(datum.value, '.2f')","title":null,"tickSize":3,"labelPadding":3,"offset":1,"minExtent":30,"maxExtent":30}},"text":{"field":"label"}}}
]
}
]
}
